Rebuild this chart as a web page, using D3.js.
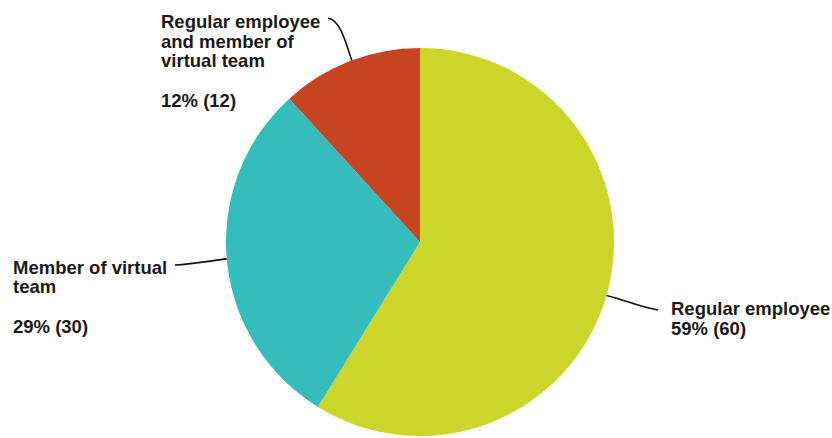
<!DOCTYPE html>
<html>
<head>
<meta charset="utf-8">
<script src="https://cdn.jsdelivr.net/npm/d3@7"></script>
<style>
  html, body { margin: 0; padding: 0; background: #fff; }
  svg text { font-family: "Liberation Sans", Arial, sans-serif; font-weight: bold; fill: #1a1a1a; }
</style>
</head>
<body>
<svg id="chart" width="832" height="438"></svg>
<script>
const categories = ["Regular employee", "Member of virtual team", "Regular employee and member of virtual team"];
const values = [60, 30, 12];
const percents = ["59%", "29%", "12%"];
const colors = ["#ccd52a", "#35bdbe", "#c8431f"];

const svg = d3.select("#chart");
const cx = 420, cy = 242, r = 194;

const pie = d3.pie().sort(null).value(d => d.value);
const arc = d3.arc().innerRadius(0).outerRadius(r);
const data = categories.map((c, i) => ({ name: c, value: values[i], pct: percents[i], color: colors[i] }));
const arcs = pie(data);

const g = svg.append("g").attr("transform", `translate(${cx},${cy})`);
g.selectAll("path.slice")
  .data(arcs)
  .join("path")
  .attr("class", "slice")
  .attr("d", arc)
  .attr("fill", d => d.data.color);

// Leader lines, each starting on the slice edge
function edgePoint(angleDeg) {
  const a = angleDeg * Math.PI / 180;
  return [cx + r * Math.sin(a), cy - r * Math.cos(a)];
}
const lines = [
  { from: edgePoint(106), c1: [625, 300], c2: [640, 307], to: [658, 310] },
  { from: edgePoint(265), c1: [210, 261], c2: [192, 264], to: [175, 265] },
  { from: edgePoint(339.4), c1: [344, 36], c2: [339, 20], to: [328, 18] }
];
svg.selectAll("path.leader")
  .data(lines)
  .join("path")
  .attr("class", "leader")
  .attr("d", d => `M${d.from[0]},${d.from[1]} C${d.c1[0]},${d.c1[1]} ${d.c2[0]},${d.c2[1]} ${d.to[0]},${d.to[1]}`)
  .attr("fill", "none")
  .attr("stroke", "#111")
  .attr("stroke-width", 1.6);

// Labels
const fs = 18.5;
function label(x, lines, baselines) {
  const t = svg.append("text").attr("font-size", fs);
  lines.forEach((s, i) => t.append("tspan").attr("x", x).attr("y", baselines[i]).text(s));
}
label(671, [categories[0], `${percents[0]} (${values[0]})`], [315, 335]);
label(13, ["Member of virtual", "team", `${percents[1]} (${values[1]})`], [273.5, 293, 333]);
label(161, ["Regular employee", "and member of", "virtual team", `${percents[2]} (${values[2]})`], [28, 47.5, 67, 106.5]);
</script>
</body>
</html>
